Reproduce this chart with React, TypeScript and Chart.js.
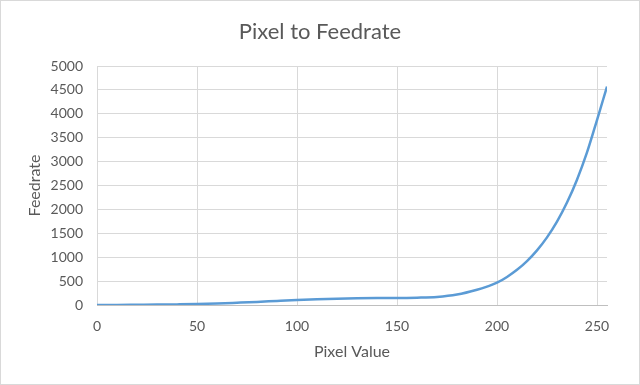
import React, { useEffect, useRef } from "react";
import { Chart, registerables } from "chart.js";

Chart.register(...registerables);

const chartTitle = "Pixel to Feedrate";
const xAxisTitle = "Pixel Value";
const yAxisTitle = "Feedrate";

const pixelValues = [0, 10, 20, 30, 40, 50, 60, 70, 80, 90, 100, 110, 120, 130, 140, 150, 160, 170, 180, 190, 195, 200, 205, 210, 215, 220, 225, 230, 235, 240, 245, 250, 255];
const feedrates = [0, 2, 5, 8, 13, 20, 32, 48, 65, 85, 104, 120, 132, 140, 145, 148, 153, 168, 218, 318, 385, 466, 587, 736, 919, 1143, 1415, 1745, 2143, 2621, 3191, 3870, 4570];

const xTicks = [0, 50, 100, 150, 200, 250];
const yTickStep = 500;

const FONT = "Lato, 'Open Sans', sans-serif";
const TEXT = "#595959";

export default function App() {
  const canvasRef = useRef<HTMLCanvasElement | null>(null);

  useEffect(() => {
    const canvas = canvasRef.current;
    if (!canvas) return;
    const points = pixelValues.map((x, i) => ({ x, y: feedrates[i] }));
    const chart = new Chart(canvas, {
      type: "line",
      data: {
        datasets: [
          {
            label: yAxisTitle,
            data: points,
            borderColor: "#5B9BD5",
            backgroundColor: "#5B9BD5",
            borderWidth: 2.5,
            pointRadius: 0,
            cubicInterpolationMode: "monotone",
            fill: false,
            yAxisID: "y",
          },
        ],
      },
      options: {
        animation: false,
        responsive: false,
        maintainAspectRatio: false,
        layout: { padding: 0 },
        plugins: {
          legend: { display: false },
          tooltip: { enabled: false },
          title: {
            display: true,
            text: chartTitle,
            color: TEXT,
            font: { family: FONT, size: 22, weight: "normal" },
            padding: { top: 19, bottom: 20.6 },
          },
        },
        scales: {
          x: {
            type: "linear",
            min: 0,
            max: 255,
            afterBuildTicks: (scale: any) => {
              scale.ticks = xTicks.map((v) => ({ value: v }));
            },
            afterFit: (scale: any) => {
              scale.height = 80;
            },
            ticks: {
              color: TEXT,
              font: { family: FONT, size: 14 },
              padding: 13,
              maxRotation: 0,
              autoSkip: false,
              callback: (v: any) => String(v),
            },
            grid: { color: "#d9d9d9", lineWidth: 1, drawTicks: false },
            border: { display: true, color: "#bfbfbf", width: 1 },
            title: {
              display: true,
              text: xAxisTitle,
              color: TEXT,
              font: { family: FONT, size: 16 },
              padding: { top: 4, bottom: 23.4 },
            },
          },
          y: {
            type: "linear",
            min: 0,
            max: 5000,
            afterFit: (scale: any) => {
              scale.width = 97;
            },
            ticks: {
              stepSize: yTickStep,
              color: TEXT,
              font: { family: FONT, size: 14 },
              padding: 14,
              callback: (v: any) => String(v),
            },
            grid: { color: "#d9d9d9", lineWidth: 1, drawTicks: false },
            border: { display: false },
            title: {
              display: true,
              text: yAxisTitle,
              color: TEXT,
              font: { family: FONT, size: 16 },
              padding: { top: 25.4, bottom: 4 },
            },
          },
          rightMargin: {
            type: "linear",
            position: "right",
            display: true,
            min: 0,
            max: 5000,
            afterFit: (scale: any) => {
              scale.width = 33;
            },
            ticks: { display: false },
            grid: { display: false, drawTicks: false },
            border: { display: false },
          },
        },
      },
    });
    return () => chart.destroy();
  }, []);

  return (
    <div style={{ position: "fixed", left: 0, top: 0, width: 640, height: 385, background: "#ffffff" }}>
      <canvas ref={canvasRef} width={640} height={385} style={{ display: "block", width: 640, height: 385 }} />
      <div
        style={{
          position: "absolute",
          left: 0,
          top: 0,
          width: 640,
          height: 385,
          boxSizing: "border-box",
          border: "1px solid #d9d9d9",
          pointerEvents: "none",
        }}
      />
    </div>
  );
}
